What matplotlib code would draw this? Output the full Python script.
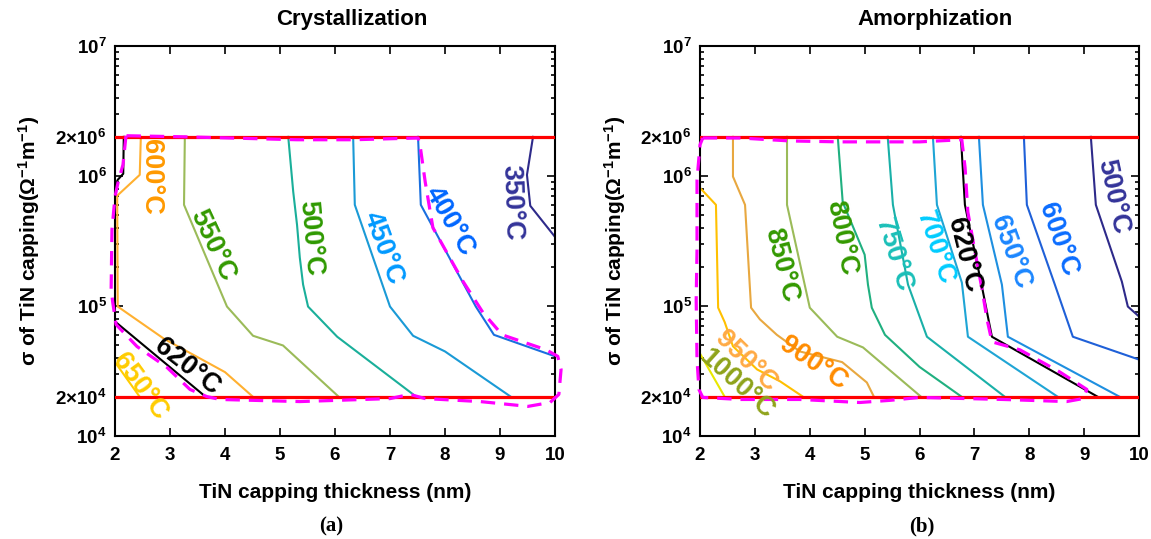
import numpy as np
import matplotlib
matplotlib.use("Agg")
import matplotlib.pyplot as plt
from matplotlib.ticker import FixedLocator, LogLocator, NullFormatter

plt.rcParams['font.family'] = ['Liberation Sans', 'DejaVu Sans']
plt.rcParams['mathtext.fontset'] = 'custom'
plt.rcParams['mathtext.rm'] = 'Liberation Sans:bold'
plt.rcParams['mathtext.it'] = 'Liberation Sans:bold'
plt.rcParams['mathtext.bf'] = 'Liberation Sans:bold'

# conductivity window (red lines)
sigma_lo, sigma_hi = 2e4, 2e6

# ---------------- (a) Crystallization: contour lines ----------------
cr_620a_x = [2.16, 2.15, 2.05, 2.0]
cr_620a_y = [2.0e6, 1.04e6, 9.35e5, 8.4e5]
cr_620b_x = [2.0, 3.65]
cr_620b_y = [7.6e4, 2.0e4]
cr_650_x = [2.0, 2.45]
cr_650_y = [3.7e4, 2.0e4]
cr_600_x = [2.47, 2.45, 2.04, 2.05, 2.89, 4.0, 4.51]
cr_600_y = [2.0e6, 1.02e6, 7.05e5, 9.9e4, 5.6e4, 3.1e4, 2.0e4]
cr_550_x = [3.27, 3.255, 4.036, 4.51, 5.055, 6.07]
cr_550_y = [2.0e6, 6.0e5, 9.9e4, 5.9e4, 4.97e4, 2.0e4]
cr_500_x = [5.15, 5.24, 5.31, 5.36, 5.42, 5.51, 6.04, 7.48]
cr_500_y = [2.0e6, 7.6e5, 4.2e5, 2.36e5, 1.46e5, 9.9e4, 5.8e4, 2.0e4]
cr_450_x = [6.33, 6.36, 7.0, 7.42, 8.0, 9.2]
cr_450_y = [2.0e6, 6.0e5, 9.9e4, 5.9e4, 4.47e4, 2.0e4]
cr_400_x = [7.51, 7.56, 8.56, 8.89, 10.0]
cr_400_y = [2.0e6, 6.0e5, 9.9e4, 6.0e4, 4.1e4]
cr_350_x = [9.6, 9.49, 9.55, 10.0]
cr_350_y = [2.0e6, 1.02e6, 5.9e5, 3.4e5]

# operating window boundary (magenta dashed)
cr_win_x = [2.2, 2.145, 2.055, 2.0, 1.945, 1.93, 1.96, 2.02, 2.4, 2.945, 3.364, 3.67,
            3.91, 5.36, 7.0, 7.36, 7.64, 8.64, 9.51, 9.91, 10.07, 10.11, 10.05, 9.84,
            9.04, 8.69, 8.33, 7.78, 7.64, 7.545, 7.51, 6.33, 5.31, 3.29, 2.2]
cr_win_y = [2.04e6, 1.22e6, 8.9e5, 6.9e5, 3.87e5, 1.34e5, 1.06e5, 7.2e4, 4.88e4, 3.37e4,
            2.28e4, 2.01e4, 1.91e4, 1.84e4, 1.94e4, 2.09e4, 1.94e4, 1.84e4, 1.69e4, 1.81e4,
            2.09e4, 3.25e4, 4.1e4, 4.6e4, 6.0e4, 8.9e4, 1.54e5, 4.0e5, 9.0e5, 1.74e6,
            1.96e6, 1.90e6, 1.90e6, 2.0e6, 2.04e6]

cr_lab_text = ['600°C', '550°C', '500°C', '450°C', '400°C', '350°C', '620°C', '650°C']
cr_lab_x = [2.65, 3.78, 5.56, 6.87, 8.09, 9.22, 3.31, 2.455]
cr_lab_y = [9.9e5, 2.91e5, 3.35e5, 2.81e5, 4.45e5, 6.2e5, 3.43e4, 2.41e4]

# ---------------- (b) Amorphization: contour lines ----------------
am_1000_x = [2.0, 2.45]
am_1000_y = [4.3e4, 2.0e4]
am_950_x = [2.0, 2.29, 2.33, 2.45, 2.6, 3.04, 3.46, 3.88]
am_950_y = [8.1e5, 6.0e5, 9.7e4, 7.5e4, 4.9e4, 3.25e4, 2.63e4, 2.0e4]
am_900_x = [2.6, 2.6, 2.82, 2.93, 3.09, 3.4, 3.82, 4.59, 5.04, 5.17]
am_900_y = [2.0e6, 9.9e5, 6.0e5, 9.7e4, 7.9e4, 6.0e4, 4.47e4, 3.7e4, 2.58e4, 2.0e4]
am_850_x = [3.585, 3.585, 4.0, 4.5, 4.97, 6.03]
am_850_y = [2.0e6, 6.0e5, 9.7e4, 5.8e4, 4.8e4, 2.0e4]
am_800_x = [4.51, 4.6, 5.0, 5.06, 5.13, 5.37, 6.0, 6.77]
am_800_y = [2.0e6, 6.3e5, 2.48e5, 1.46e5, 9.7e4, 6.0e4, 3.4e4, 2.0e4]
am_750_x = [5.42, 5.515, 5.79, 6.135, 7.556]
am_750_y = [2.0e6, 6.0e5, 1.46e5, 5.8e4, 2.0e4]
am_700_x = [6.244, 6.317, 6.772, 6.882, 8.521]
am_700_y = [2.0e6, 6.0e5, 1.51e5, 5.8e4, 2.0e4]
am_620_x = [6.754, 6.827, 7.137, 7.319, 9.25]
am_620_y = [2.0e6, 6.0e5, 1.41e5, 5.8e4, 2.0e4]
am_650_x = [7.082, 7.155, 7.501, 7.61, 9.65]
am_650_y = [2.0e6, 6.0e5, 1.46e5, 5.8e4, 2.0e4]
am_600_x = [7.902, 7.956, 8.466, 8.794, 10.0]
am_600_y = [2.0e6, 6.0e5, 1.46e5, 5.8e4, 3.87e4]
am_500_x = [9.122, 9.213, 9.687, 9.796, 10.0]
am_500_y = [2.0e6, 6.0e5, 1.54e5, 9.9e4, 8.3e4]

am_win_x = [2.05, 2.73, 3.64, 4.55, 6.0, 6.77, 6.83, 6.88, 7.01, 7.14, 7.23, 7.32, 7.83,
            8.56, 9.05, 8.98, 8.68, 7.52, 6.0, 5.46, 4.91, 3.82, 2.73, 2.05, 1.98, 1.945,
            1.93, 1.945, 1.945, 2.0, 2.05]
am_win_y = [1.96e6, 1.96e6, 1.86e6, 1.83e6, 1.83e6, 1.90e6, 1.16e6, 5.3e5, 2.62e5, 1.34e5,
            7.9e4, 5.3e4, 4.6e4, 3.1e4, 2.28e4, 1.94e4, 1.84e4, 1.91e4, 1.98e4, 1.88e4,
            1.81e4, 1.91e4, 1.91e4, 1.98e4, 2.28e4, 3.87e4, 1.12e5, 2.7e5, 9.35e5, 1.74e6,
            1.96e6]

am_lab_text = ['1000°C', '950°C', '900°C', '850°C', '800°C', '750°C', '700°C', '620°C',
               '650°C', '600°C', '500°C']
am_lab_x = [2.67, 2.84, 4.06, 3.475, 4.57, 5.53, 6.28, 6.81, 7.65, 8.52, 9.52]
am_lab_y = [2.49e4, 3.74e4, 3.61e4, 2.08e5, 3.35e5, 2.48e5, 2.81e5, 2.48e5, 2.57e5, 3.24e5, 6.9e5]

ytick_vals = [1e4, 2e4, 1e5, 1e6, 2e6, 1e7]
ytick_text = ['$10^{4}$', '2×$10^{4}$', '$10^{5}$', '$10^{6}$', '2×$10^{6}$', '$10^{7}$']
xtick_vals = [2, 3, 4, 5, 6, 7, 8, 9, 10]

# styles
cr_lines = [(cr_620a_x, cr_620a_y, 'black'), (cr_620b_x, cr_620b_y, 'black'),
            (cr_650_x, cr_650_y, '#FFCC00'), (cr_600_x, cr_600_y, '#FFB030'),
            (cr_550_x, cr_550_y, '#9BBB59'), (cr_500_x, cr_500_y, '#1AAF9A'),
            (cr_450_x, cr_450_y, '#1A9AD6'), (cr_400_x, cr_400_y, '#1A6FDF'),
            (cr_350_x, cr_350_y, '#2E2A8A')]
cr_lab_rot = [-90, -65, -85, -70, -60, -88, -38, -54]
cr_lab_col = ['#FF9900', '#339900', '#2E9900', '#0099FF', '#0066FF', '#333399', 'black', '#FFCC00']

am_lines = [(am_1000_x, am_1000_y, '#E8E800'), (am_950_x, am_950_y, '#FFC000'),
            (am_900_x, am_900_y, '#E8A840'), (am_850_x, am_850_y, '#9BBB59'),
            (am_800_x, am_800_y, '#20B080'), (am_750_x, am_750_y, '#1AB0A8'),
            (am_700_x, am_700_y, '#1FA5D5'), (am_620_x, am_620_y, 'black'),
            (am_650_x, am_650_y, '#1E8FE0'), (am_600_x, am_600_y, '#1F60D8'),
            (am_500_x, am_500_y, '#2E2A8A')]
am_lab_rot = [-42, -44, -34, -76, -79, -73, -72, -76, -70, -71, -78]
am_lab_col = ['#8FA31A', '#FFAA44', '#FF8C00', '#339900', '#339900', '#1ABFB8', '#00CCFF',
              'black', '#1A86FF', '#0A6CFF', '#333399']


def draw_panel(ax, lines, win_x, win_y, lab_text, lab_x, lab_y, lab_rot, lab_col, title, title_x):
    for xs, ys, c in lines:
        ax.plot(xs, ys, color=c, lw=1.5, zorder=2)
    ax.axhline(sigma_hi, color='red', lw=2.3, zorder=3)
    ax.axhline(sigma_lo, color='red', lw=2.3, zorder=3)
    ax.plot(win_x, win_y, color='#FF00FF', lw=2.3, ls=(0, (4.5, 2.8)), zorder=4, clip_on=False)
    for t, x, y, r, c in zip(lab_text, lab_x, lab_y, lab_rot, lab_col):
        ax.text(x, y, t, rotation=r, rotation_mode='anchor', ha='center', va='center',
                fontsize=19.5, fontweight='bold', color=c, zorder=5)

    ax.set_yscale('log')
    ax.set_xlim(2, 10)
    ax.set_ylim(1e4, 1e7)
    ax.yaxis.set_major_locator(FixedLocator(ytick_vals))
    ax.set_yticklabels(ytick_text)
    ax.yaxis.set_minor_locator(LogLocator(base=10, subs=np.arange(2, 10)))
    ax.yaxis.set_minor_formatter(NullFormatter())
    ax.set_xticks(xtick_vals)
    ax.tick_params(which='both', direction='in', top=True, right=True, labelsize=13.5, width=1.2)
    ax.tick_params(which='major', length=6)
    ax.tick_params(axis='x', which='major', pad=8)
    ax.tick_params(axis='y', which='major', pad=6)
    ax.tick_params(which='minor', length=3)
    for lab in ax.get_xticklabels() + ax.get_yticklabels():
        lab.set_fontweight('bold')
    for sp in ax.spines.values():
        sp.set_linewidth(1.5)

    ax.set_xlabel('TiN capping thickness (nm)', fontsize=15, fontweight='bold')
    ax.xaxis.set_label_coords(0.5, -0.12)
    ax.set_ylabel('σ of TiN capping(Ω$^{-1}$m$^{-1}$)', fontsize=15, fontweight='bold')
    ax.yaxis.set_label_coords(-0.165, 0.5)
    ax.text(title_x, 1.067, title, transform=ax.transAxes, ha='center', va='center',
            fontsize=16, fontweight='bold')


fig = plt.figure(figsize=(11.51, 5.39), dpi=100)
ax1 = fig.add_axes([0.0999, 0.1911, 0.3823, 0.7236])
ax2 = fig.add_axes([0.6082, 0.1911, 0.3814, 0.7236])

draw_panel(ax1, cr_lines, cr_win_x, cr_win_y, cr_lab_text, cr_lab_x, cr_lab_y,
           cr_lab_rot, cr_lab_col, 'Crystallization', 0.539)
draw_panel(ax2, am_lines, am_win_x, am_win_y, am_lab_text, am_lab_x, am_lab_y,
           am_lab_rot, am_lab_col, 'Amorphization', 0.535)

fig.text(0.2876, 0.024, '(a)', ha='center', va='center', fontsize=15, fontweight='bold',
         family=['Liberation Serif', 'DejaVu Serif'])
fig.text(0.801, 0.024, '(b)', ha='center', va='center', fontsize=15, fontweight='bold',
         family=['Liberation Serif', 'DejaVu Serif'])

fig.savefig('out.png', dpi=100)
